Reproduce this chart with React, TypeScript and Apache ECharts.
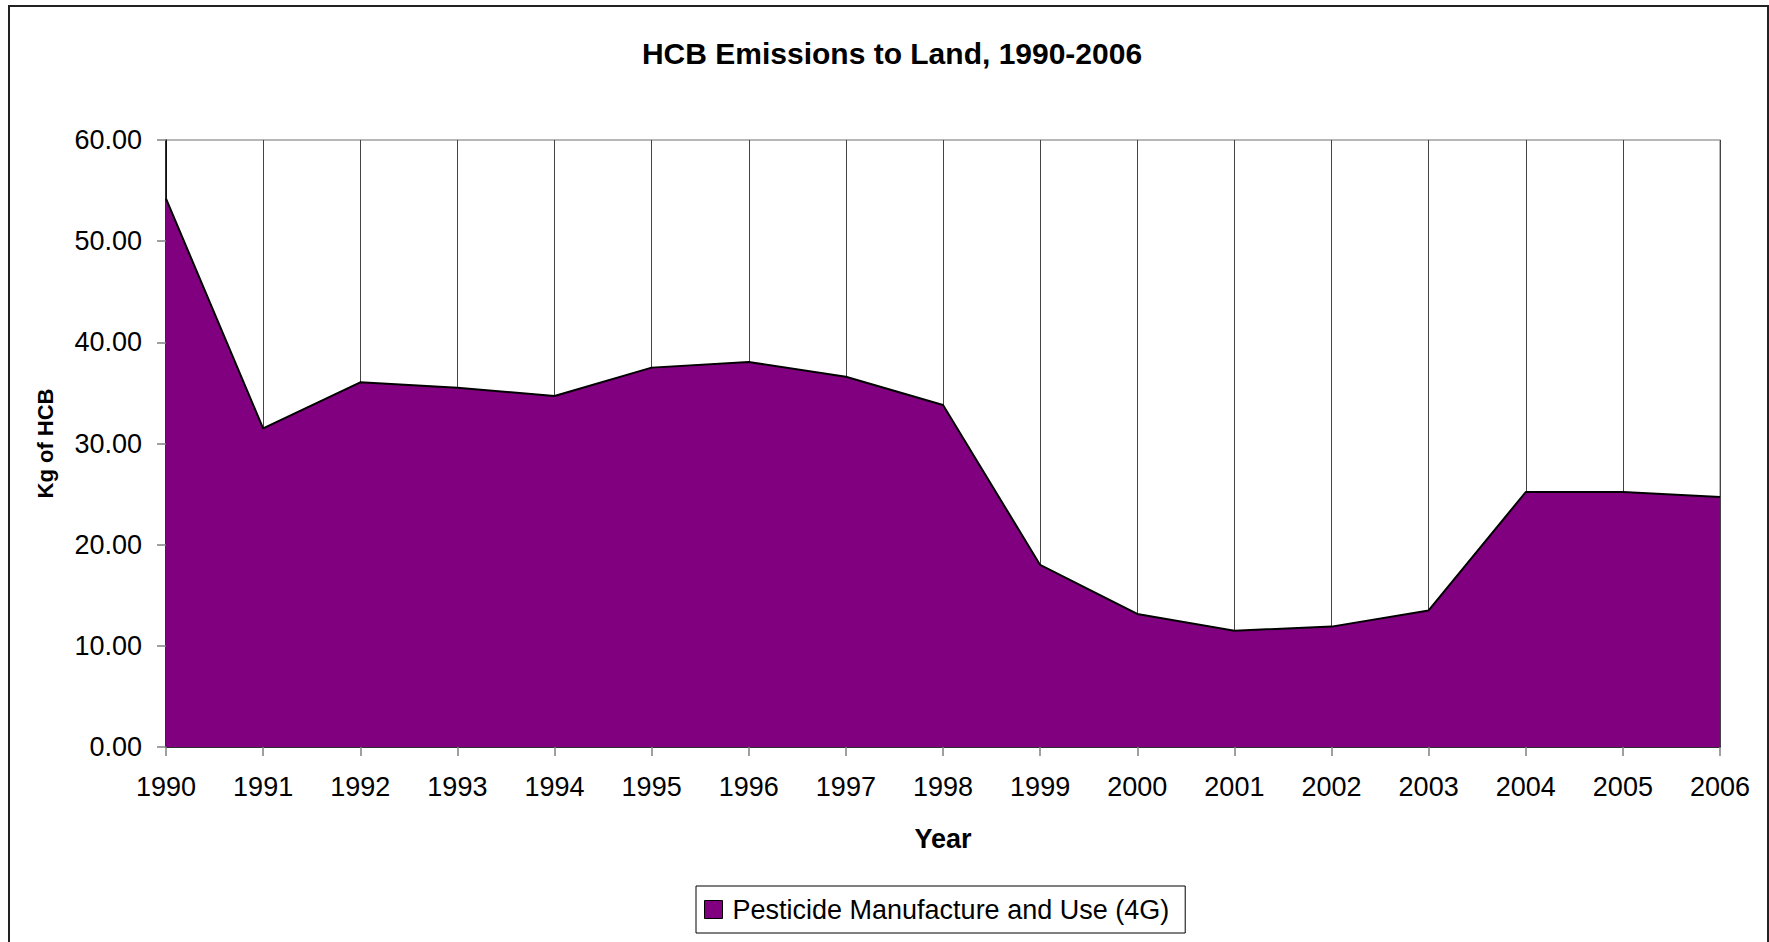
import React, { useEffect, useRef } from "react";
import * as echarts from "echarts";

const titleText = "HCB Emissions to Land, 1990-2006";
const yAxisTitle = "Kg of HCB";
const xAxisTitle = "Year";
const seriesName = "Pesticide Manufacture and Use (4G)";
const years = ["1990", "1991", "1992", "1993", "1994", "1995", "1996", "1997", "1998", "1999", "2000", "2001", "2002", "2003", "2004", "2005", "2006"];
const emissions = [54.2, 31.5, 36.05, 35.5, 34.7, 37.5, 38.05, 36.6, 33.8, 18.0, 13.15, 11.5, 11.9, 13.5, 25.2, 25.2, 24.7];
const yMin = 0;
const yMax = 60;
const yStep = 10;

const FONT = "'Liberation Sans', Arial, Helvetica, sans-serif";

export default function App() {
  const ref = useRef<HTMLDivElement>(null);
  useEffect(() => {
    if (!ref.current) return;
    const chart = echarts.init(ref.current, null, { renderer: "svg" });
    chart.setOption({
      animation: false,
      backgroundColor: "#ffffff",
      textStyle: { fontFamily: FONT },
      title: {
        text: titleText,
        left: 892,
        top: 38,
        padding: 0,
        textAlign: "center",
        textStyle: { fontFamily: FONT, fontSize: 30, fontWeight: "bold", color: "#000" },
      },
      graphic: [
        {
          type: "rect",
          shape: { x: 9, y: 6, width: 1759, height: 950 },
          style: { fill: "none", stroke: "#222", lineWidth: 2 },
          silent: true,
          z: -1,
        },
      ],
      legend: {
        left: 696,
        top: 886,
        orient: "horizontal",
        padding: [10, 16, 10, 8],
        borderColor: "#000",
        borderWidth: 1,
        itemWidth: 18,
        itemHeight: 18,
        icon: "rect",
        textStyle: { fontFamily: FONT, fontSize: 27, color: "#000", padding: [0, 0, 0, 5] },
        data: [
          {
            name: seriesName,
            icon: "rect",
            itemStyle: { color: "#800080", borderColor: "#000", borderWidth: 1 },
          },
        ],
      },
      grid: {
        left: 166,
        right: 49,
        top: 140,
        bottom: 195,
        show: true,
        borderColor: "#a0a0a0",
        borderWidth: 1.5,
        backgroundColor: "transparent",
      },
      xAxis: {
        type: "category",
        data: years,
        boundaryGap: false,
        name: xAxisTitle,
        nameLocation: "middle",
        nameGap: 78,
        nameTextStyle: { fontFamily: FONT, fontSize: 27, fontWeight: "bold", color: "#000" },
        axisLine: { show: true, lineStyle: { color: "#000", width: 1.5 } },
        axisTick: { show: true, alignWithLabel: true, length: 9, lineStyle: { color: "#808080", width: 1.5 } },
        axisLabel: { fontFamily: FONT, fontSize: 27, color: "#000", margin: 26, interval: 0 },
        splitLine: { show: true, lineStyle: { color: "#444", width: 1 } },
      },
      yAxis: {
        type: "value",
        min: yMin,
        max: yMax,
        interval: yStep,
        name: yAxisTitle,
        nameLocation: "middle",
        nameRotate: 90,
        nameGap: 110,
        nameTextStyle: { fontFamily: FONT, fontSize: 22, fontWeight: "bold", color: "#000" },
        axisLine: { show: true, lineStyle: { color: "#000", width: 1.5 } },
        axisTick: { show: true, inside: false, length: 9, lineStyle: { color: "#808080", width: 1.5 } },
        axisLabel: {
          fontFamily: FONT,
          fontSize: 27,
          color: "#000",
          margin: 24,
          formatter: (v: number) => v.toFixed(2),
        },
        splitLine: { show: false },
      },
      series: [
        {
          name: seriesName,
          type: "line",
          data: emissions,
          symbol: "none",
          showSymbol: false,
          itemStyle: { color: "#800080" },
          lineStyle: { color: "#000", width: 2 },
          areaStyle: { color: "#800080", opacity: 1 },
          z: 3,
        },
      ],
    });
    return () => chart.dispose();
  }, []);
  return (
    <div
      ref={ref}
      style={{ position: "absolute", left: 0, top: 0, width: 1769, height: 942 }}
    />
  );
}
